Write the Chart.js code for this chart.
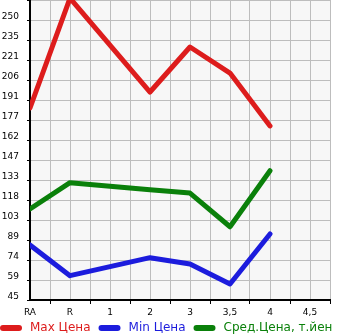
<!DOCTYPE html>
<html>
<head>
<meta charset="utf-8">
<script src="https://cdn.jsdelivr.net/npm/chart.js@4"></script>
<style>
    html, body { margin: 0; padding: 0; background: #fff; }
    #wrap { width: 345px; height: 335px; position: relative; }
</style>
</head>
<body>
<div id="wrap"><canvas id="chart_price"></canvas></div>
<script>
// categories along the bottom (RA, R, then grades)
const X_LABELS = ['RA', 'R', '1', '2', '3', '3,5', '4', '4,5'];

// series, one value per category (null = no data)
const MAX_PRICE = [185.5, 266, null, 197.2, 230.2, 211.1, 172.3, null];
const MIN_PRICE = [85, 62.5, null, 75.7, 71.1, 56.4, 93.1, null];
const AVG_PRICE = [111.4, 130.7, null, 125.6, 123.1, 98.4, 139.5, null];

// y tick labels as printed on the chart
const Y_TICKS = ['45', '59', '74', '89', '103', '118', '133', '147', '162', '177', '191', '206', '221', '235', '250'];
const Y_MIN = 44.667;
const Y_STEP = 14.667;

function toPoints(values) {
    var pts = [];
    for (var i = 0; i < values.length; i++) {
        pts.push({ x: i, y: values[i] });
    }
    return pts;
}

var plotBackground = {
    id: 'plotBackground',
    beforeDraw: function (chart) {
        var a = chart.chartArea;
        var c = chart.ctx;
        c.save();
        c.fillStyle = '#f7f7f7';
        c.fillRect(a.left, a.top, a.right - a.left, a.bottom - a.top);
        c.restore();
    }
};

// legend drawn by hand so it can run off the right edge like the original
var lineLegend = {
    id: 'lineLegend',
    afterDraw: function (chart) {
        var c = chart.ctx;
        var x = 0;
        var y = 328;
        c.save();
        c.font = '12px "DejaVu Sans"';
        c.textBaseline = 'middle';
        chart.data.datasets.forEach(function (ds) {
            c.strokeStyle = ds.borderColor;
            c.lineWidth = 6;
            c.lineCap = 'round';
            c.beginPath();
            c.moveTo(x + 3, y);
            c.lineTo(x + 19, y);
            c.stroke();
            c.fillStyle = ds.borderColor;
            c.fillText(ds.label, x + 30, y);
            x += 30 + c.measureText(ds.label).width + 8;
        });
        c.restore();
    }
};

function lineSet(label, values, color) {
    return {
        label: label,
        data: toPoints(values),
        borderColor: color,
        backgroundColor: color,
        borderWidth: 5,
        borderCapStyle: 'round',
        borderJoinStyle: 'round',
        pointRadius: 0,
        spanGaps: true,
        tension: 0
    };
}

var ctx = document.getElementById('chart_price');
var priceChart = new Chart(ctx, {
    type: 'line',
    data: {
        datasets: [
            lineSet('Max Цена', MAX_PRICE, '#dd1c1c'),
            lineSet('Min Цена', MIN_PRICE, '#1c1cdd'),
            lineSet('Сред.Цена, т.йен', AVG_PRICE, '#0a800a')
        ]
    },
    options: {
        responsive: true,
        maintainAspectRatio: false,
        animation: false,
        layout: { padding: { left: 0, right: 15, top: 0, bottom: 0 } },
        plugins: {
            legend: { display: false },
            tooltip: { enabled: false }
        },
        scales: {
            x: {
                type: 'linear',
                min: 0,
                max: 7.5,
                afterBuildTicks: function (scale) {
                    var t = [];
                    for (var v = 0; v <= 7.5; v += 0.5) t.push({ value: v });
                    scale.ticks = t;
                },
                afterFit: function (scale) {
                    scale.height = 35;
                    scale.paddingLeft = 0;
                    scale.paddingRight = 0;
                },
                ticks: {
                    autoSkip: false,
                    maxRotation: 0,
                    padding: 3,
                    color: '#000',
                    font: { family: 'DejaVu Sans', size: 9 },
                    callback: function (value) {
                        return Number.isInteger(value) ? X_LABELS[value] : '';
                    }
                },
                grid: {
                    color: '#bdbdbd',
                    lineWidth: 1,
                    tickLength: 4,
                    tickColor: function (c) {
                        return (c.tick && Number.isInteger(c.tick.value)) ? 'rgba(0,0,0,0)' : '#000';
                    }
                },
                border: { color: '#000', width: 2 }
            },
            y: {
                type: 'linear',
                min: Y_MIN,
                max: Y_MIN + Y_STEP * Y_TICKS.length,
                afterBuildTicks: function (scale) {
                    var t = [];
                    for (var k = 0; k <= Y_TICKS.length; k++) t.push({ value: Y_MIN + k * Y_STEP });
                    scale.ticks = t;
                },
                afterFit: function (scale) {
                    scale.width = 30;
                    scale.paddingTop = 0;
                    scale.paddingBottom = 0;
                },
                ticks: {
                    autoSkip: false,
                    padding: 8,
                    labelOffset: -3,
                    color: '#000',
                    font: { family: 'DejaVu Sans', size: 9 },
                    callback: function (value, index) {
                        return index < Y_TICKS.length ? Y_TICKS[index] : '';
                    }
                },
                grid: {
                    color: '#bdbdbd',
                    lineWidth: 1,
                    tickLength: 3,
                    tickColor: '#000'
                },
                border: { color: '#000', width: 2 }
            }
        }
    },
    plugins: [plotBackground, lineLegend]
});
</script>
</body>
</html>
